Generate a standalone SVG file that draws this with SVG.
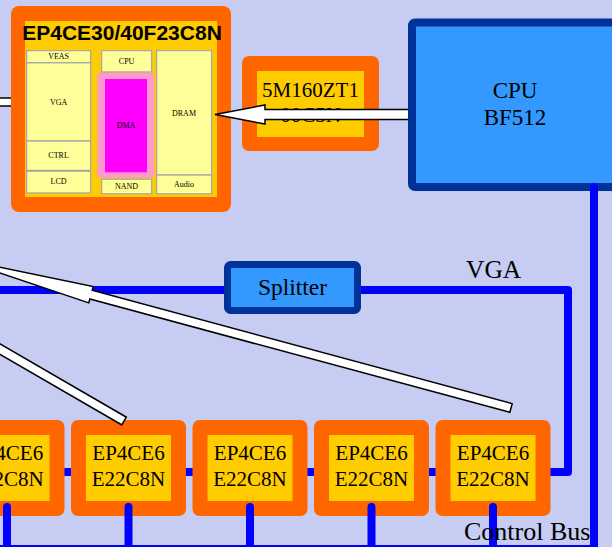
<svg xmlns="http://www.w3.org/2000/svg" width="612" height="547" viewBox="0 0 612 547">
<style>
.bg{fill:#C6CCF2}
.org{fill:#FF6600}
.yel{fill:#FFCC00}
.sub{fill:#FFFF99;stroke:#A8A8A8;stroke-width:1.3}
.bus{fill:none;stroke:#0000FF;stroke-width:8;stroke-linecap:round;stroke-linejoin:round}
.blue{fill:#3399FF;stroke:#003399}
.arr{fill:#FFFFFF;stroke:#000000;stroke-width:1.5;stroke-linejoin:miter}
.t{font-family:"Liberation Serif","Times New Roman",serif;fill:#000;text-anchor:middle}
.s8{font-size:8px}
.s21{font-size:21px}
.title{font-family:"Liberation Sans",Arial,sans-serif;font-weight:bold;font-size:21px;fill:#000;text-anchor:middle}
</style>
<rect class="bg" x="0" y="0" width="612" height="547"/>

<g id="connectors-back">
  <path class="bus" d="M-10,290 H230"/>
  <path class="bus" d="M361,290 H568 V472 H-10"/>
  <rect class="arr" x="-10" y="98" width="28" height="8"/>
</g>

<g id="fpga-main">
  <rect class="org" x="11" y="6" width="220" height="206" rx="8"/>
  <rect class="yel" x="25" y="21" width="192" height="176"/>
  <text class="title" x="122" y="40">EP4CE30/40F23C8N</text>
  <rect class="sub" x="26.6" y="50.6" width="64" height="12.2"/>
  <text class="t s8" x="58.6" y="59">VEAS</text>
  <rect class="sub" x="26.6" y="62.8" width="64" height="78.2"/>
  <text class="t s8" x="58.6" y="104.5">VGA</text>
  <rect class="sub" x="26.6" y="141" width="64" height="29.4"/>
  <text class="t s8" x="58.6" y="158">CTRL</text>
  <rect class="sub" x="26.6" y="171.2" width="64" height="21.8"/>
  <text class="t s8" x="58.6" y="184">LCD</text>
  <rect class="sub" x="101.6" y="50.6" width="50" height="21.4"/>
  <text class="t s8" x="126.6" y="64">CPU</text>
  <rect x="97.3" y="72.7" width="57" height="105" rx="3" fill="#FF99CC"/>
  <rect x="105" y="79" width="42" height="93.3" fill="#FF00FF"/>
  <text class="t s8" x="126" y="128">DMA</text>
  <rect class="sub" x="101.6" y="179.2" width="50" height="14.6"/>
  <text class="t s8" x="126.6" y="188.5">NAND</text>
  <rect class="sub" x="156.6" y="50.6" width="55" height="124.4"/>
  <text class="t s8" x="184" y="116">DRAM</text>
  <rect class="sub" x="156.6" y="175" width="55" height="18.8"/>
  <text class="t s8" x="184" y="186.5">Audio</text>
</g>

<g id="cpld">
  <rect class="org" x="242" y="56" width="137" height="95" rx="7"/>
  <rect class="yel" x="257" y="71" width="107" height="66"/>
  <text class="t s21" x="310.5" y="97">5M160ZT1</text>
  <text class="t s21" x="310.5" y="122">00C5N</text>
</g>

<g id="arrow-cpu-dram">
  <polygon class="arr" points="410,109.5 265,109.5 265,105 215,114.5 265,124 265,119.5 410,119.5"/>
</g>

<g id="cpu">
  <rect class="blue" x="412" y="22.5" width="215" height="164.5" rx="3" stroke-width="8"/>
  <text class="t" x="515" y="98" font-size="23">CPU</text>
  <text class="t" x="515" y="125" font-size="23">BF512</text>
</g>

<g id="splitter">
  <rect class="blue" x="227.5" y="264.5" width="130" height="46" rx="3" stroke-width="7"/>
  <text class="t" x="292.5" y="295" font-size="23.5">Splitter</text>
</g>

<g id="fpga-1">
  <rect class="org" x="-50.5" y="420" width="115" height="96" rx="7"/>
  <rect class="yel" x="-35.5" y="435" width="85" height="66"/>
  <text class="t s21" x="7" y="460">EP4CE6</text>
  <text class="t s21" x="7" y="486">E22C8N</text>
</g>
<g id="fpga-2">
  <rect class="org" x="71" y="420" width="115" height="96" rx="7"/>
  <rect class="yel" x="86" y="435" width="85" height="66"/>
  <text class="t s21" x="128.5" y="460">EP4CE6</text>
  <text class="t s21" x="128.5" y="486">E22C8N</text>
</g>
<g id="fpga-3">
  <rect class="org" x="192.5" y="420" width="115" height="96" rx="7"/>
  <rect class="yel" x="207.5" y="435" width="85" height="66"/>
  <text class="t s21" x="250" y="460">EP4CE6</text>
  <text class="t s21" x="250" y="486">E22C8N</text>
</g>
<g id="fpga-4">
  <rect class="org" x="314" y="420" width="115" height="96" rx="7"/>
  <rect class="yel" x="329" y="435" width="85" height="66"/>
  <text class="t s21" x="371.5" y="460">EP4CE6</text>
  <text class="t s21" x="371.5" y="486">E22C8N</text>
</g>
<g id="fpga-5">
  <rect class="org" x="435.5" y="420" width="115" height="96" rx="7"/>
  <rect class="yel" x="450.5" y="435" width="85" height="66"/>
  <text class="t s21" x="493" y="460">EP4CE6</text>
  <text class="t s21" x="493" y="486">E22C8N</text>
</g>

<g id="connectors">
  <path class="bus" d="M594,187 V560"/>
  <path class="bus" d="M-10,549 H594"/>
  <path class="bus" d="M7,507 V555 M128.5,507 V555 M250,507 V555 M371.5,507 V555 M493,507 V555"/>
  <polygon class="arr" transform="translate(511,408) rotate(195.1)" points="0,-4.5 435,-4.5 435,-8.5 575,0 435,8.5 435,4.5 0,4.5"/>
  <polygon class="arr" transform="translate(124,421) rotate(210.1)" points="0,-4.5 300,-4.5 300,4.5 0,4.5"/>
</g>

<text class="t" x="466" y="278" font-size="25.5" text-anchor="start" style="text-anchor:start">VGA</text>
<text class="t" x="464" y="540" font-size="26" style="text-anchor:start">Control Bus</text>
</svg>
